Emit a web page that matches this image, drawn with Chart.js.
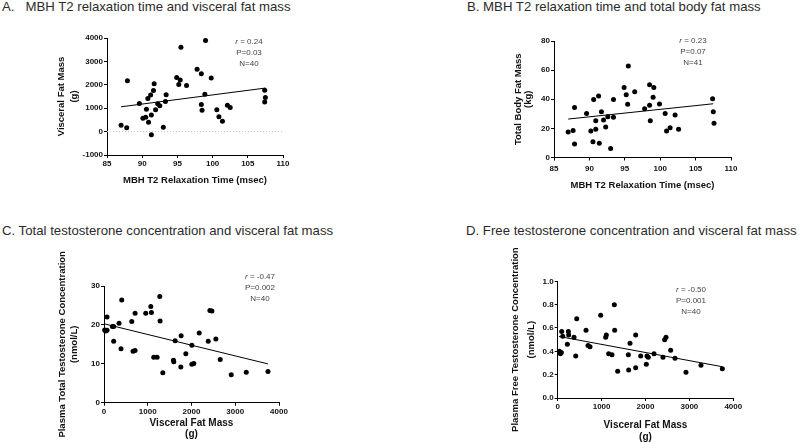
<!DOCTYPE html>
<html>
<head>
<meta charset="utf-8">
<script src="https://cdn.jsdelivr.net/npm/chart.js@4.4.1/dist/chart.umd.min.js"></script>
<style>
html, body { margin: 0; padding: 0; background: #fff; }
body { width: 800px; height: 442px; position: relative; overflow: hidden; font-family: Arial, "Liberation Sans", sans-serif; }
.panel { position: absolute; }
.title { position: absolute; font-size: 13.2px; line-height: 1; color: #2b2b2b; white-space: pre; }
.stats { position: absolute; font-size: 8px; line-height: 11px; color: #444; text-align: center; transform: translateX(-50%); white-space: nowrap; }
</style>
</head>
<body>
<div class="title" style="left:2px;top:-0.5px">A.   MBH T2 relaxation time and visceral fat mass</div>
<div class="title" style="left:467px;top:-0.2px">B. MBH T2 relaxation time and total body fat mass</div>
<div class="title" style="left:2px;top:223.5px">C. Total testosterone concentration and visceral fat mass</div>
<div class="title" style="left:466px;top:223.5px">D. Free testosterone concentration and visceral fat mass</div>

<div class="panel" style="left:0;top:0"><canvas id="chartA" width="400" height="200"></canvas></div>
<div class="panel" style="left:400px;top:0"><canvas id="chartB" width="400" height="200"></canvas></div>
<div class="panel" style="left:0;top:220px"><canvas id="chartC" width="400" height="226"></canvas></div>
<div class="panel" style="left:400px;top:220px"><canvas id="chartD" width="400" height="226"></canvas></div>

<div class="stats" style="left:249px;top:36.3px"><i>r</i> = 0.24<br>P=0.03<br>N=40</div>
<div class="stats" style="left:693px;top:35.3px"><i>r</i> = 0.23<br>P=0.07<br>N=41</div>
<div class="stats" style="left:260px;top:271.3px"><i>r</i> = -0.47<br>P=0.002<br>N=40</div>
<div class="stats" style="left:691px;top:283.9px"><i>r</i> = -0.50<br>P=0.001<br>N=40</div>

<script>
'use strict';

/* ─── Data: panel A (T2 vs visceral fat, g) ─── */
const t2A  = [87.0, 87.8, 87.9, 89.6, 90.1, 90.5, 90.6, 90.9, 90.8, 91.2,
              91.3, 91.3, 91.6, 91.7, 91.9, 92.2, 92.5, 93.0, 93.3, 93.4,
              94.9, 95.2, 95.4, 95.5, 96.3, 97.8, 98.4, 98.4, 98.5, 98.9,
              99.0, 99.8, 100.6, 100.9, 101.4, 102.1, 102.5, 107.4, 107.5, 107.4];
const vfmA = [270, 160, 2170, 1200, 570, 610, 960, 400, 1410, 1560,
              710, -130, 1760, 2040, 930, 1190, 1100, 190, 1290, 1570,
              2310, 2010, 2200, 3600, 1970, 2660, 2470, 1160, 910, 1600,
              3890, 2290, 930, 630, 440, 1130, 1030, 1770, 1460, 1270];
const fitAx = [87, 107.5];
const fitAy = [1060, 1860];

/* ─── Data: panel B (T2 vs total body fat, kg) ─── */
const t2B  = [87.0, 87.7, 87.9, 87.9, 89.6, 90.2, 90.5, 90.6, 90.9, 90.9,
              91.3, 91.4, 91.7, 92.0, 92.3, 92.6, 93.0, 93.4, 93.4, 94.9,
              95.2, 95.5, 95.4, 96.4, 97.8, 98.5, 98.5, 98.6, 99.1, 99.0,
              99.9, 100.7, 100.9, 101.4, 102.1, 102.6, 107.4, 107.5, 107.6];
const tbfB = [17.5, 18.5, 9.3, 34.4, 30.3, 18.2, 10.9, 39.9, 25.3, 19.4,
              42.2, 9.8, 31.5, 25.8, 21.0, 28.0, 6.2, 39.9, 27.6, 48.1,
              43.1, 62.9, 36.5, 45.1, 33.5, 35.8, 49.9, 25.3, 48.1, 41.3,
              36.7, 30.3, 18.2, 20.5, 29.2, 19.4, 40.3, 31.5, 23.5];
const fitBx = [87, 107.5];
const fitBy = [26.4, 36.9];

/* ─── Data: panel C (visceral fat vs total testosterone, nmol/L) ─── */
const vfmC = [15, 38, 69, 69, 191, 221, 221, 344, 405, 389,
              634, 664, 710, 710, 954, 1069, 1084, 1137, 1214, 1275,
              1282, 1344, 1588, 1595, 1626, 1756, 1763, 1870, 2008, 2008,
              2053, 2176, 2382, 2420, 2466, 2557, 2656, 2908, 3252, 3748];
const ttC  = [18.7, 18.4, 18.6, 22.0, 19.6, 19.6, 15.8, 20.4, 26.4, 13.9,
              20.9, 13.2, 23.0, 13.4, 23.0, 24.7, 23.2, 11.7, 11.7, 27.3,
              21.0, 7.7, 10.9, 10.5, 15.9, 9.2, 17.2, 12.6, 14.8, 9.9,
              10.1, 17.9, 15.8, 23.7, 23.6, 16.4, 11.1, 7.2, 7.8, 8.0];
const fitCx = [15, 3748];
const fitCy = [20.25, 9.97];

/* ─── Data: panel D (visceral fat vs free testosterone, nmol/L) ─── */
const vfmD = [38, 61, 83, 91, 114, 220, 243, 250, 372, 410,
              433, 645, 691, 736, 979, 1093, 1108, 1161, 1237, 1290,
              1298, 1366, 1609, 1617, 1647, 1776, 1776, 1890, 2019, 2034,
              2064, 2194, 2398, 2436, 2467, 2573, 2672, 2922, 3264, 3750];
const ftD  = [0.40, 0.38, 0.39, 0.57, 0.53, 0.46, 0.57, 0.54, 0.52, 0.36,
              0.68, 0.58, 0.45, 0.44, 0.71, 0.52, 0.54, 0.38, 0.37, 0.80,
              0.58, 0.23, 0.37, 0.24, 0.47, 0.26, 0.54, 0.36, 0.29, 0.36,
              0.35, 0.38, 0.35, 0.50, 0.52, 0.41, 0.34, 0.22, 0.28, 0.25];
const fitDx = [30, 3750];
const fitDy = [0.527, 0.268];

/* ─── Tick values and labels ─── */
const t2Ticks       = [85, 90, 95, 100, 105, 110];
const t2TickLabels  = ['85', '90', '95', '100', '105', '110'];
const vfmYTicks     = [-1000, 0, 1000, 2000, 3000, 4000];
const vfmYLabels    = ['-1000', '0', '1000', '2000', '3000', '4000'];
const tbfTicks      = [0, 20, 40, 60, 80];
const tbfTickLabels = ['0', '20', '40', '60', '80'];
const vfmXTicks     = [0, 1000, 2000, 3000, 4000];
const vfmXLabels    = ['0', '1000', '2000', '3000', '4000'];
const ttTicks       = [0, 10, 20, 30];
const ttTickLabels  = ['0', '10', '20', '30'];
const ftTicks       = [0, 0.2, 0.4, 0.6, 0.8, 1.0];
const ftTickLabels  = ['0.0', '0.2', '0.4', '0.6', '0.8', '1.0'];

const FONT = 'Arial, "Liberation Sans", sans-serif';

function pairs(xs, ys) {
  return xs.map((x, i) => ({ x: x, y: ys[i] }));
}

/* ─── Build one GraphPad-style scatter panel ─── */
function axis(o) {
  return {
    type: 'linear',
    min: o.min,
    max: o.max,
    afterBuildTicks: a => { a.ticks = o.ticks.map(v => ({ value: v })); },
    afterFit: a => { if (o.width != null) a.width = o.width; if (o.height != null) a.height = o.height; },
    grid: { display: true, drawOnChartArea: false, drawTicks: true, tickLength: 3, color: '#000', lineWidth: 1 },
    border: { display: true, color: '#000', width: 1 },
    ticks: {
      padding: o.pad,
      color: '#111',
      font: { family: FONT, size: 8, weight: 'bold' },
      maxRotation: 0,
      autoSkip: false,
      callback: (v, i) => o.labels[i]
    },
    title: {
      display: true,
      text: o.title,
      color: '#111',
      padding: 0,
      font: { family: FONT, size: o.titleSize, weight: 'bold', lineHeight: o.titleLh }
    }
  };
}

function makePanel(id, p) {
  const datasets = [
    {
      data: p.points,
      pointRadius: 2.5,
      pointBackgroundColor: '#000',
      pointBorderWidth: 0,
      clip: false
    },
    {
      data: p.fit,
      showLine: true,
      borderColor: '#000',
      borderWidth: 1,
      pointRadius: 0,
      clip: false
    }
  ];
  if (p.zero) {
    datasets.unshift({
      data: p.zero,
      showLine: true,
      borderColor: '#c4c4c4',
      borderWidth: 1,
      borderDash: [1, 2],
      pointRadius: 0
    });
  }
  new Chart(document.getElementById(id), {
    type: 'scatter',
    data: { datasets: datasets },
    options: {
      responsive: false,
      animation: false,
      devicePixelRatio: 1,
      layout: { padding: p.padding },
      plugins: { legend: { display: false }, tooltip: { enabled: false } },
      scales: { x: axis(p.x), y: axis(p.y) }
    }
  });
}

makePanel('chartA', {
  points: pairs(t2A, vfmA),
  fit: pairs(fitAx, fitAy),
  zero: pairs([85, 110], [0, 0]),
  padding: { left: 55.5, right: 117, top: 38, bottom: 14.3 },
  x: { min: 85, max: 110, ticks: t2Ticks, labels: t2TickLabels, pad: 1, height: 30.7,
       title: 'MBH T2 Relaxation Time (msec)', titleSize: 9.5, titleLh: '11.4px' },
  y: { min: -1000, max: 4000, ticks: vfmYTicks, labels: vfmYLabels, pad: 1, width: 51.5,
       title: ['Visceral Fat Mass', '(g)'], titleSize: 9.5, titleLh: '12.5px' }
});

makePanel('chartB', {
  points: pairs(t2B, tbfB),
  fit: pairs(fitBx, fitBy),
  padding: { left: 113.3, right: 69, top: 41, bottom: 9.3 },
  x: { min: 85, max: 110, ticks: t2Ticks, labels: t2TickLabels, pad: 3, height: 33.2,
       title: 'MBH T2 Relaxation Time (msec)', titleSize: 9.5, titleLh: '11.4px' },
  y: { min: 0, max: 80, ticks: tbfTicks, labels: tbfTickLabels, pad: 1, width: 40.7,
       title: ['Total Body Fat Mass', '(kg)'], titleSize: 9.5, titleLh: '10px' }
});

makePanel('chartC', {
  points: pairs(vfmC, ttC),
  fit: pairs(fitCx, fitCy),
  padding: { left: 56, right: 121, top: 66, bottom: 6.2 },
  x: { min: 0, max: 4000, ticks: vfmXTicks, labels: vfmXLabels, pad: 1, height: 37.1,
       title: ['Visceral Fat Mass', '(g)'], titleSize: 10, titleLh: '11px' },
  y: { min: 0, max: 30, ticks: ttTicks, labels: ttTickLabels, pad: 1, width: 48,
       title: ['Plasma Total Testosterone Concentration', '(nmol/L)'], titleSize: 9.5, titleLh: '12px' }
});

makePanel('chartD', {
  points: pairs(vfmD, ftD),
  fit: pairs(fitDx, fitDy),
  padding: { left: 107, right: 66.7, top: 61.3, bottom: 3.15 },
  x: { min: 0, max: 4000, ticks: vfmXTicks, labels: vfmXLabels, pad: 1, height: 44.85,
       title: ['Visceral Fat Mass', '(g)'], titleSize: 10, titleLh: '11.7px' },
  y: { min: 0, max: 1, ticks: ftTicks, labels: ftTickLabels, pad: 1, width: 50.7,
       title: ['Plasma Free Testosterone Concentration', '(nmol/L)'], titleSize: 9.5, titleLh: '16.5px' }
});
</script>
</body>
</html>
